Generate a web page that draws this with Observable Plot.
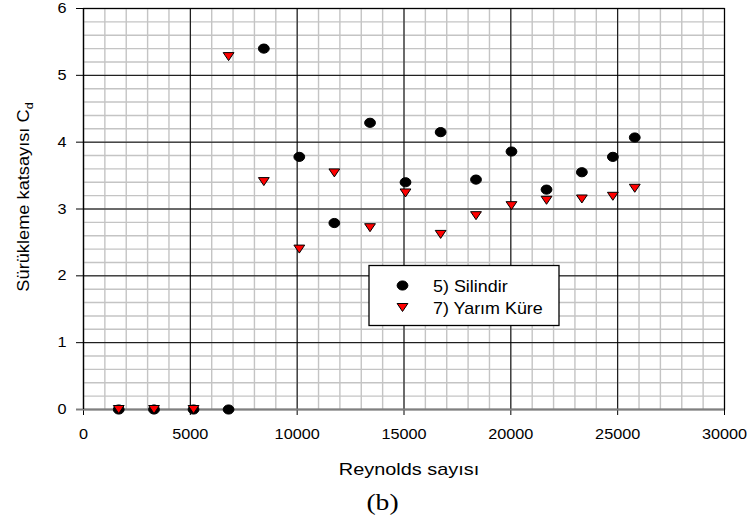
<!DOCTYPE html>
<html><head><meta charset="utf-8">
<script src="https://cdn.jsdelivr.net/npm/d3@7"></script>
<script src="https://cdn.jsdelivr.net/npm/@observablehq/plot@0.6"></script>
<style>body{margin:0;background:#fff;} svg{display:block}</style>
</head><body><div id="chart"></div>
<script>
// Reynolds numbers (shared by both series)
const reynolds = [1650, 3300, 5150, 6790, 8440, 10100, 11740, 13410, 15070, 16715, 18370, 20030, 21670, 23325, 24775, 25800];
// 5) Silindir
const silindir = [0, 0, 0, 0, 5.40, 3.78, 2.79, 4.29, 3.40, 4.15, 3.44, 3.86, 3.29, 3.55, 3.78, 4.07];
// 7) Yarım Küre
const yarimKure = [0, 0, 0, 5.28, 3.41, 2.40, 3.54, 2.72, 3.24, 2.62, 2.90, 3.05, 3.13, 3.15, 3.19, 3.31];
const seriesNames = ["5) Silindir", "7) Yarım Küre"];
const xTicks = [0, 5000, 10000, 15000, 20000, 25000, 30000];
const yTicks = [0, 1, 2, 3, 4, 5, 6];
const xLabel = "Reynolds sayısı";
const yLabel = "Sürükleme katsayısı C";
const yLabelSub = "d";
const caption = "(b)";

const xMinor = d3.range(0, 30001, 1000);
const yMinor = d3.range(0, 6.001, 0.2);

const rows = reynolds.map((re, i) => ({re, s: silindir[i], h: yarimKure[i]}));

// custom symbols: slightly wide ellipse, flattened downward triangle
const ellipseSym = {draw(ctx, size) {
  const r = Math.sqrt(size / Math.PI), rx = r * 1.08, ry = r * 0.92, k = 0.5523;
  ctx.moveTo(rx, 0);
  ctx.bezierCurveTo(rx, ry * k, rx * k, ry, 0, ry);
  ctx.bezierCurveTo(-rx * k, ry, -rx, ry * k, -rx, 0);
  ctx.bezierCurveTo(-rx, -ry * k, -rx * k, -ry, 0, -ry);
  ctx.bezierCurveTo(rx * k, -ry, rx, -ry * k, rx, 0);
  ctx.closePath();
}};
const triSym = {draw(ctx, size) {
  const r = Math.sqrt(size / Math.PI), h = r * 0.74;
  ctx.moveTo(-r, -h); ctx.lineTo(r, -h); ctx.lineTo(0, h); ctx.closePath();
}};

const chart = Plot.plot({
  width: 752, height: 527,
  marginLeft: 83, marginRight: 28, marginTop: 8, marginBottom: 118,
  x: {domain: [0, 30000]},
  y: {domain: [0, 6]},
  style: {fontFamily: "'Liberation Sans', Arial, sans-serif", fontSize: "14.5px", color: "#000", background: "#fff"},
  marks: [
    Plot.gridX(xMinor, {stroke: "#c4c4c4", strokeOpacity: 1, strokeWidth: 1.4}),
    Plot.gridY(yMinor, {stroke: "#c4c4c4", strokeOpacity: 1, strokeWidth: 1.4}),
    Plot.gridX(xTicks, {stroke: "#000", strokeOpacity: 1, strokeWidth: 1}),
    Plot.gridY(yTicks, {stroke: "#000", strokeOpacity: 1, strokeWidth: 1}),
    Plot.frame({stroke: "#000", strokeWidth: 1.2}),
    Plot.axisX(xTicks, {tickSize: 6, tickPadding: 13, label: null, stroke: "#000", tickFormat: d => String(d)}),
    Plot.axisY(yTicks.filter(v => v > 0), {tickSize: 7, tickPadding: 10, label: null, stroke: "#000", tickFormat: d => String(d)}),
    Plot.axisY([0], {tickSize: 7, tickPadding: 10, label: null, stroke: "#808080", strokeWidth: 2, tickFormat: d => String(d)}),
    Plot.ruleY([0], {stroke: "#808080", strokeWidth: 2}),
    Plot.ruleX([0], {stroke: "#000", strokeWidth: 1.2, y1: 0, y2: 6}),
    Plot.dot(rows, {x: "re", y: "s", r: 5, symbol: ellipseSym, fill: "#000", stroke: "#000", strokeWidth: 1}),
    Plot.dot(rows, {x: "re", y: "h", r: 5.4, symbol: triSym, fill: "#ff0000", stroke: "#000", strokeWidth: 1})
  ]
});
document.getElementById("chart").append(chart);

const svg = d3.select(chart);
// horizontal stretch of tick labels (original rendering is wider)
svg.selectAll('g[aria-label="x-axis tick label"] text, g[aria-label="y-axis tick label"] text').each(function() {
  const t = d3.select(this);
  t.attr("transform", (t.attr("transform") || "") + " scale(1.12,1)");
});

const sans = "'Liberation Sans', Arial, sans-serif";
// x axis title
svg.append("text").attr("transform", "translate(409,475) scale(1.17,1)")
  .attr("text-anchor", "middle").attr("font-family", sans).attr("font-size", 17).attr("fill", "#000").text(xLabel);
// y axis title with subscript
const yt = svg.append("text").attr("transform", "translate(28.5,197) rotate(-90) scale(1.14,1)")
  .attr("text-anchor", "middle").attr("font-family", sans).attr("font-size", 16).attr("fill", "#000");
yt.append("tspan").text(yLabel);
yt.append("tspan").attr("font-size", 11).attr("dy", 4).text(yLabelSub);
// caption
svg.append("text").attr("transform", "translate(382.5,510) scale(1.15,1)")
  .attr("text-anchor", "middle").attr("font-family", "'Liberation Serif', 'Times New Roman', serif")
  .attr("font-size", 24).attr("fill", "#000").text(caption);

// legend
const lg = svg.append("g").attr("aria-label", "legend");
lg.append("rect").attr("x", 369).attr("y", 265.5).attr("width", 190).attr("height", 60)
  .attr("fill", "#fff").attr("stroke", "#000").attr("stroke-width", 1.3);
const syms = [ellipseSym, triSym];
const fills = ["#000", "#ff0000"];
const rs = [5, 5.4];
seriesNames.forEach((name, i) => {
  const cy = i === 0 ? 285.5 : 307.5;
  lg.append("path").attr("transform", `translate(402.5,${cy})`)
    .attr("d", d3.symbol().type(syms[i]).size(Math.PI * rs[i] * rs[i])())
    .attr("fill", fills[i]).attr("stroke", "#000").attr("stroke-width", 1);
  lg.append("text").attr("transform", `translate(433,${cy + 6}) scale(1.12,1)`)
    .attr("text-anchor", "start")
    .attr("font-family", sans).attr("font-size", 16).attr("fill", "#000").text(name);
});
</script>
</body></html>
